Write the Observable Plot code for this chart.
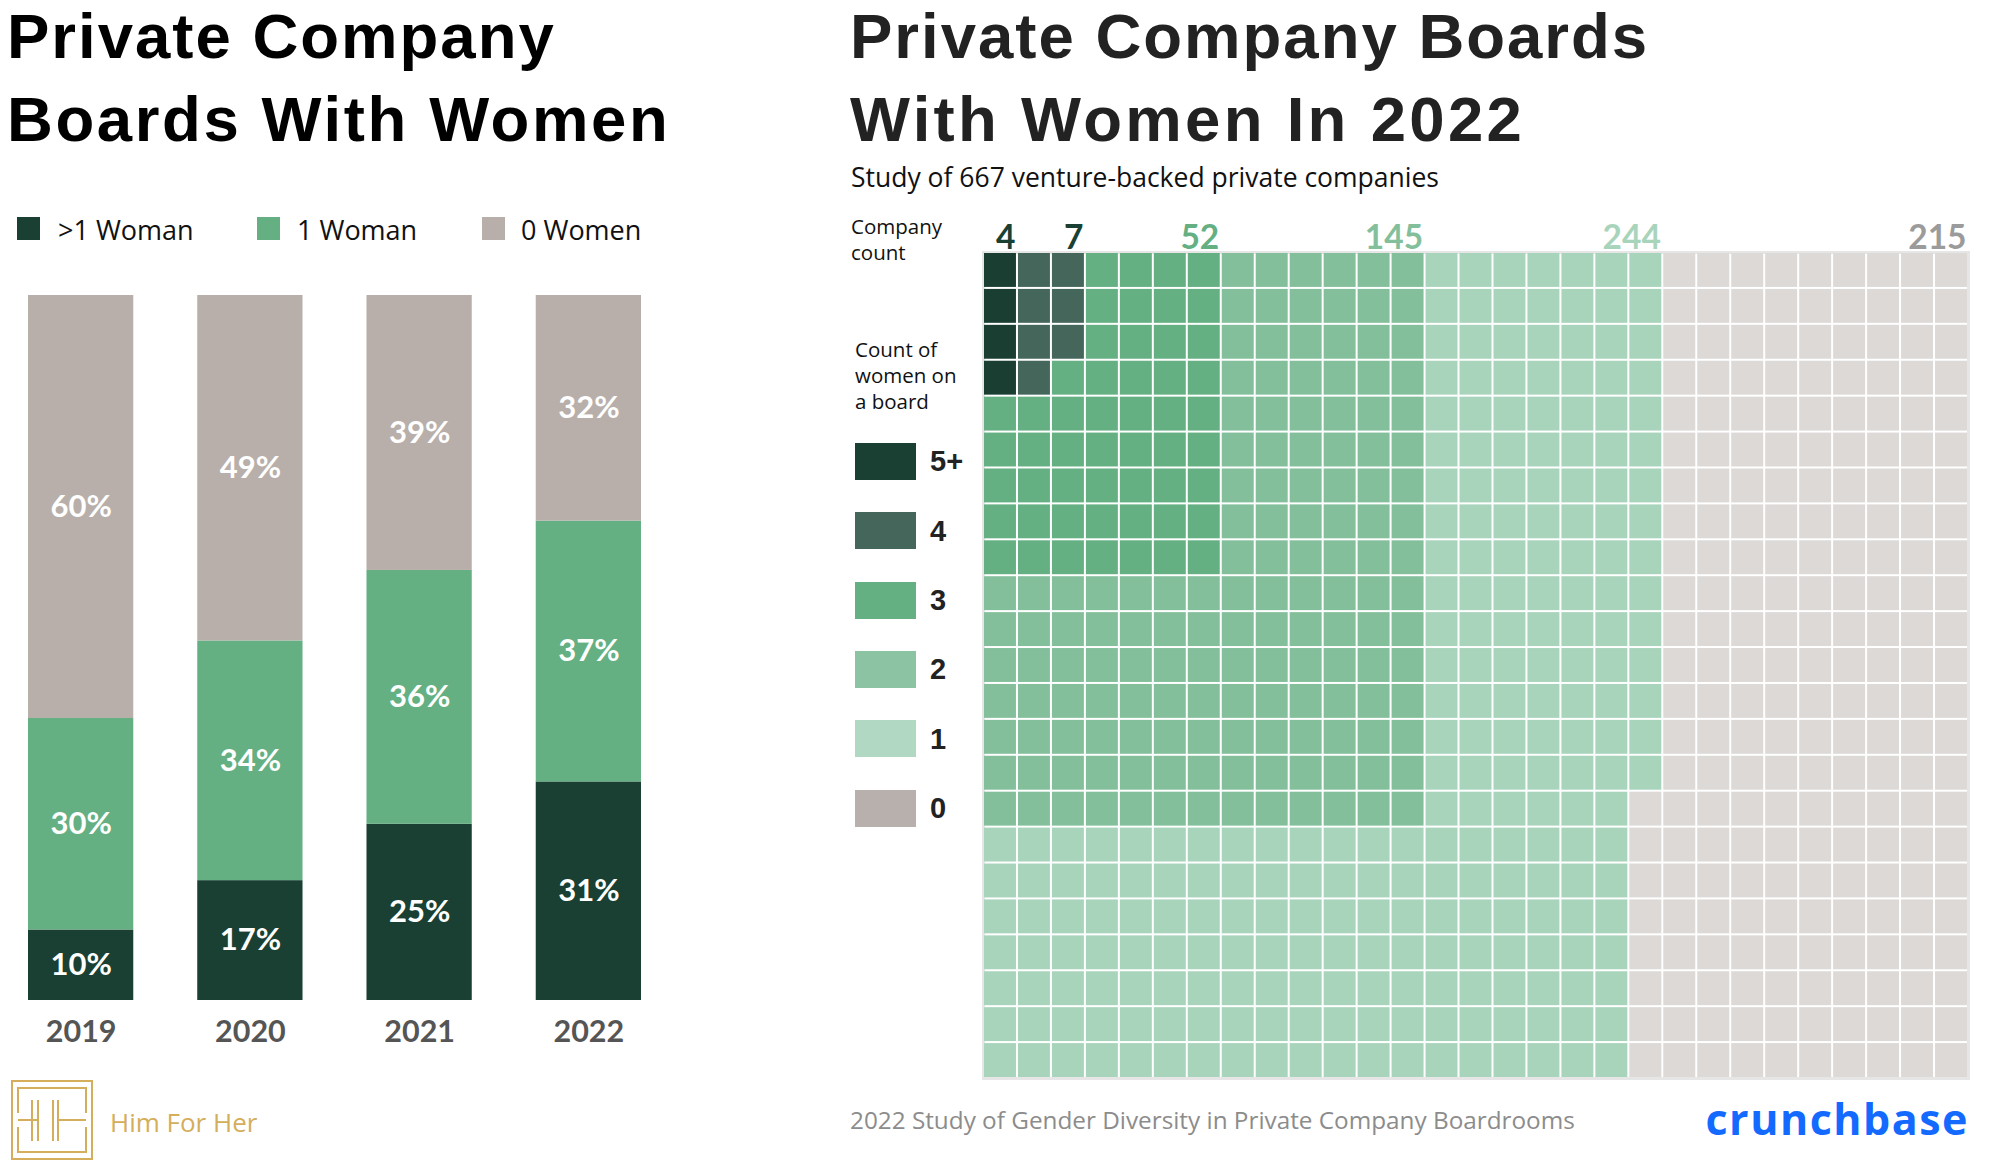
<!DOCTYPE html>
<html><head><meta charset="utf-8">
<script src="https://cdn.jsdelivr.net/npm/d3@7"></script>
<script src="https://cdn.jsdelivr.net/npm/@observablehq/plot@0.6"></script>
<style>
body{margin:0;background:#fff;font-family:"Open Sans", sans-serif;}
#page{position:relative;width:1992px;height:1168px;overflow:hidden;background:#fff;}
.t{position:absolute;white-space:nowrap;line-height:1;}
.sw{position:absolute;}
svg{display:block;}
</style></head><body><div id="page"></div>
<script>
// ---------- Left chart data ----------
const years = ["2019", "2020", "2021", "2022"];
const barGroups = [">1 Woman", "1 Woman", "0 Women"];
const pctMoreThanOne = [10, 17, 25, 31];
const pctOne = [30, 34, 36, 37];
const pctZero = [60, 49, 39, 32];
const barColors = ["#1a3f33", "#64b083", "#b8afab"];

// ---------- Right chart data ----------
const levels = ["5+", "4", "3", "2", "1", "0"];
const companyCounts = [4, 7, 52, 145, 244, 215];
const cellColors = ["#1a3f32", "#45665b", "#64b083", "#84bf9c", "#a9d4bc", "#dcd9d7"];
const swatchColors = ["#1a3f33", "#45665b", "#64b083", "#8cc4a3", "#b0d8c2", "#b8b0ac"];
const countLabelColors = ["#1a3f33", "#1a3f33", "#64b083", "#84bf9c", "#a9d4bc", "#9b9b9b"];
const gridCols = 29, gridRows = 23;
const blockRows = [4, 4, 9, 16, 23, 23]; // rows spanned by each level's fill block

const page = document.getElementById("page");
const FONTS = {
  title: {family: "'Liberation Sans', Arial, sans-serif", base: 0.8465},
  body: {family: "'Open Sans', sans-serif", base: 0.888}
};
function txt(s, x, baseline, size, opts = {}) {
  const f = FONTS[opts.font || "body"];
  const d = document.createElement("div");
  d.className = "t";
  d.textContent = s;
  d.style.fontFamily = f.family;
  d.style.fontSize = size + "px";
  d.style.top = (baseline - f.base * size) + "px";
  if (opts.anchor === "end") d.style.right = (1992 - x) + "px"; else d.style.left = x + "px";
  d.style.fontWeight = opts.weight || 400;
  d.style.color = opts.color || "#111";
  if (opts.ls) d.style.letterSpacing = opts.ls + "px";
  page.appendChild(d);
  return d;
}
function box(x, y, w, h, color) {
  const d = document.createElement("div");
  d.className = "sw";
  Object.assign(d.style, {left: x + "px", top: y + "px", width: w + "px", height: h + "px", background: color});
  page.appendChild(d);
}

// ---------- Titles ----------
txt("Private Company", 7, 58.6, 63.5, {font: "title", weight: 700, color: "#000", ls: 2});
txt("Boards With Women", 7, 141.7, 63.5, {font: "title", weight: 700, color: "#000", ls: 2.6});
txt("Private Company Boards", 850, 58.6, 63.5, {font: "title", weight: 700, color: "#222", ls: 2});
txt("With Women In 2022", 850, 141.7, 63.5, {font: "title", weight: 700, color: "#222", ls: 3.3});
txt("Study of 667 venture-backed private companies", 851, 188, 26.5);
txt("Company", 851, 234.5, 20.5);
txt("count", 851, 260, 20.5);

// ---------- Left legend ----------
const legX = [17, 257, 482], legTX = [58, 297, 521];
barGroups.forEach((g, i) => {
  box(legX[i], 217, 23, 23, barColors[i]);
  txt(g, legTX[i], 240, 27);
});

// ---------- Left chart ----------
const barData = [];
years.forEach((y, j) => {
  [pctMoreThanOne, pctOne, pctZero].forEach((arr, k) => barData.push({year: y, group: barGroups[k], value: arr[j]}));
});
const leftChart = Plot.plot({
  width: 680, height: 780,
  marginTop: 15, marginLeft: 28, marginRight: 39, marginBottom: 60,
  style: {fontFamily: "Lato", background: "transparent"},
  x: {domain: years, paddingInner: 0.378, paddingOuter: 0, round: false, label: null},
  y: {domain: [0, 100], axis: null},
  color: {domain: barGroups, range: barColors},
  marks: [
    Plot.barY(barData, Plot.stackY({x: "year", y: "value", fill: "group"})),
    Plot.text(barData, Plot.stackY({x: "year", y: "value", z: "group", text: d => d.value + "%", fill: "white", fontSize: 31, fontWeight: 700})),
    Plot.axisX({tickSize: 0, tickPadding: 20, fontSize: 30.5, fontWeight: 700, fill: "#555", label: null})
  ]
});
Object.assign(leftChart.style, {position: "absolute", left: "0px", top: "280px"});
page.appendChild(leftChart);

// ---------- Waffle cells ----------
const owner = Array.from({length: gridCols}, () => new Array(gridRows).fill(-1));
const cells = [];
levels.forEach((lv, i) => {
  let left = companyCounts[i];
  for (let c = 0; c < gridCols && left > 0; c++)
    for (let r = 0; r < blockRows[i] && left > 0; r++)
      if (owner[c][r] < 0) { owner[c][r] = i; cells.push({col: c, row: r, level: lv}); left--; }
});
const countLabels = levels.map((lv, i) => ({
  level: lv, count: companyCounts[i], color: countLabelColors[i],
  col: d3.max(cells.filter(c => c.level === lv), c => c.col)
}));

const rightChart = Plot.plot({
  width: 1010, height: 890,
  marginTop: 52, marginLeft: 23, marginRight: 2, marginBottom: 12,
  style: {fontFamily: "Lato", background: "transparent"},
  x: {domain: d3.range(gridCols), padding: 0, round: false, axis: null},
  y: {domain: d3.range(gridRows), padding: 0, round: false, axis: null},
  color: {domain: levels, range: cellColors},
  marks: [
    Plot.frame({stroke: "#e6e6e6", strokeWidth: 3}),
    Plot.cell(cells, {x: "col", y: "row", fill: "level", inset: 1}),
    ...countLabels.map(l => Plot.text([l], {x: "col", text: d => String(d.count), frameAnchor: "top", lineAnchor: "bottom", textAnchor: "end", dx: 15, dy: -4, fill: l.color, fontSize: 33.5, fontWeight: 700}))
  ]
});
Object.assign(rightChart.style, {position: "absolute", left: "960px", top: "200px"});
page.appendChild(rightChart);

// ---------- Right legend ----------
txt("Count of", 855, 357, 20.5);
txt("women on", 855, 383, 20.5);
txt("a board", 855, 409, 20.5);
levels.forEach((lv, i) => {
  const top = 443 + i * 69.3;
  box(855, top, 61, 37, swatchColors[i]);
  txt(lv, 930, top + 29, 29, {weight: 700, color: "#222", font: "title"});
});

// ---------- Footer ----------
txt("2022 Study of Gender Diversity in Private Company Boardrooms", 850, 1130, 24.3, {color: "#8c8c8c"});
txt("Him For Her", 110, 1132, 26, {color: "#d4ae5a"});
txt("crunchbase", 1969, 1135, 43, {weight: 700, color: "#146aff", anchor: "end", ls: 1.5});

// Him For Her logo mark (decorative)
const ns = "http://www.w3.org/2000/svg";
const logo = document.createElementNS(ns, "svg");
logo.setAttribute("width", 84); logo.setAttribute("height", 82);
Object.assign(logo.style, {position: "absolute", left: "10px", top: "1079px"});
const paths = [
  "M2,2 H82 V80 H2 Z",
  "M8,34 V9 H76 V34",
  "M8,48 V73 H76 V48",
  "M8,41 H28 M22,21 V62 M28,21 V62",
  "M48,41 H76 M43,21 V62 M48,21 V62"
];
paths.forEach(p => {
  const e = document.createElementNS(ns, "path");
  e.setAttribute("d", p); e.setAttribute("fill", "none");
  e.setAttribute("stroke", "#d4ae5a"); e.setAttribute("stroke-width", 2);
  logo.appendChild(e);
});
page.appendChild(logo);
</script></body></html>
